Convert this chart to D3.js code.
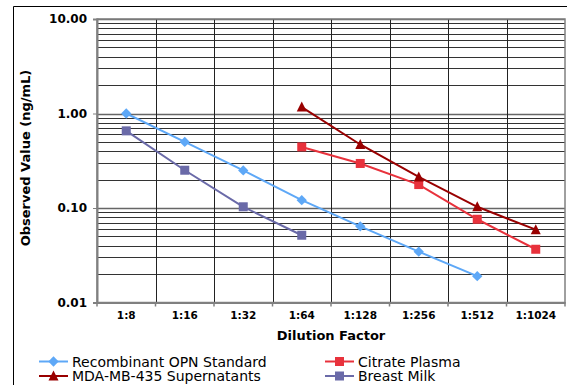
<!DOCTYPE html>
<html>
<head>
<meta charset="utf-8">
<script src="https://cdn.jsdelivr.net/npm/d3@7"></script>
<style>
  body { margin: 0; background: #fff; }
  svg { display: block; font-family: 'DejaVu Sans', Verdana, sans-serif; }
</style>
</head>
<body>
<div id="chart"></div>
<script>
// data
const dilutions = ['1:8', '1:16', '1:32', '1:64', '1:128', '1:256', '1:512', '1:1024'];
const yTicks = [0.01, 0.1, 1, 10];

const recombinant = [1.0, 0.5, 0.25, 0.121, 0.064, 0.0345, 0.019, null];
const citrate = [null, null, null, 0.443, 0.296, 0.177, 0.076, 0.0366];
const mda = [null, null, null, 1.17, 0.47, 0.213, 0.103, 0.059];
const breastMilk = [0.655, 0.251, 0.103, 0.0515, null, null, null, null];

const seriesList = [
    { name: 'Recombinant OPN Standard', values: recombinant, color: '#5ea8f7', marker: 'diamond', col: 0, row: 0 },
    { name: 'Citrate Plasma', values: citrate, color: '#e8323c', marker: 'square', col: 1, row: 0 },
    { name: 'MDA-MB-435 Supernatants', values: mda, color: '#990000', marker: 'triangle', col: 0, row: 1 },
    { name: 'Breast Milk', values: breastMilk, color: '#6a6aa8', marker: 'square', col: 1, row: 1 },
];

const width = 567;
const height = 385;
const plot = { left: 97, top: 19, right: 565, bottom: 302.5 };

const svg = d3.select('#chart')
    .append('svg')
    .attr('width', width)
    .attr('height', height);

// outer frame
svg.append('path')
    .attr('d', `M13.5,${height} V6.5 H${width}`)
    .attr('fill', 'none')
    .attr('stroke', '#000')
    .attr('stroke-width', 1);

const x = d3.scaleBand()
    .domain(dilutions)
    .range([plot.left, plot.right]);

const y = d3.scaleLog()
    .domain([0.01, 10])
    .range([plot.bottom, plot.top]);

// horizontal gridlines (every minor log step)
const gridVals = [];
[0.01, 0.1, 1].forEach((base) => {
    for (let i = 1; i <= 10; i++) gridVals.push(base * i);
});
const uniqueGrid = Array.from(new Set(gridVals.map((v) => +v.toPrecision(3))));

svg.append('g')
    .selectAll('line')
    .data(uniqueGrid.filter((v) => v > 0.01))
    .enter()
    .append('line')
    .attr('x1', plot.left)
    .attr('x2', plot.right)
    .attr('y1', (d) => Math.round(y(d)) + 0.5)
    .attr('y2', (d) => Math.round(y(d)) + 0.5)
    .attr('stroke', (d) => (yTicks.includes(d) ? '#666' : '#333'))
    .attr('stroke-width', (d) => (yTicks.includes(d) ? 1.5 : 1));

// vertical gridlines at category boundaries
const boundaries = dilutions.map((d) => x(d)).slice(1);
svg.append('g')
    .selectAll('line')
    .data(boundaries)
    .enter()
    .append('line')
    .attr('x1', (d) => Math.round(d) + 0.5)
    .attr('x2', (d) => Math.round(d) + 0.5)
    .attr('y1', plot.top)
    .attr('y2', plot.bottom)
    .attr('stroke', '#222')
    .attr('stroke-width', 1);

// plot frame
svg.append('rect')
    .attr('x', plot.left)
    .attr('y', plot.top)
    .attr('width', plot.right - plot.left)
    .attr('height', plot.bottom - plot.top)
    .attr('fill', 'none')
    .attr('stroke', '#808080')
    .attr('stroke-width', 1.5);

// y axis
const yAxis = d3.axisLeft(y)
    .tickValues(yTicks)
    .tickFormat(d3.format('.2f'))
    .tickSize(4)
    .tickPadding(6);

svg.append('g')
    .attr('transform', `translate(${plot.left},0)`)
    .call(yAxis)
    .call((g) => g.select('.domain').attr('stroke', '#808080').attr('stroke-width', 2))
    .call((g) => g.selectAll('.tick line').attr('stroke', '#808080'))
    .call((g) => g.selectAll('.tick text')
        .attr('font-size', 12)
        .attr('font-weight', 'bold')
        .attr('font-family', "'DejaVu Sans', Verdana, sans-serif")
        .attr('fill', '#000'));

// x axis
const xAxis = d3.axisBottom(x).tickSize(0).tickPadding(9);
const xg = svg.append('g')
    .attr('transform', `translate(0,${plot.bottom})`)
    .call(xAxis);
xg.select('.domain').attr('stroke', '#808080').attr('stroke-width', 2);
xg.selectAll('.tick text')
    .attr('font-size', 10.5)
    .attr('font-weight', 'bold')
    .attr('font-family', "'DejaVu Sans', Verdana, sans-serif")
    .attr('fill', '#000');

// x tick marks at boundaries
xg.append('g')
    .selectAll('line')
    .data([plot.left, ...boundaries, plot.right])
    .enter()
    .append('line')
    .attr('x1', (d) => d)
    .attr('x2', (d) => d)
    .attr('y1', 0)
    .attr('y2', 4)
    .attr('stroke', '#808080')
    .attr('stroke-width', 1.5);

// axis titles
svg.append('text')
    .attr('transform', 'translate(30,158) rotate(-90)')
    .attr('text-anchor', 'middle')
    .attr('font-size', 13)
    .attr('font-weight', 'bold')
    .text('Observed Value (ng/mL)');

svg.append('text')
    .attr('x', (plot.left + plot.right) / 2)
    .attr('y', 339.5)
    .attr('text-anchor', 'middle')
    .attr('font-size', 13)
    .attr('font-weight', 'bold')
    .text('Dilution Factor');

// markers
function drawMarker(g, type, color, size) {
    if (type === 'diamond') {
        g.append('path')
            .attr('d', d3.symbol().type(d3.symbolDiamond2).size(size * 7.5)())
            .attr('fill', color);
    } else if (type === 'square') {
        g.append('rect')
            .attr('x', -size / 2)
            .attr('y', -size / 2)
            .attr('width', size)
            .attr('height', size)
            .attr('fill', color);
    } else {
        g.append('path')
            .attr('d', `M0,${-size / 2 - 1}L${size / 2 + 0.5},${size / 2}L${-size / 2 - 0.5},${size / 2}Z`)
            .attr('fill', color);
    }
}

const line = d3.line()
    .defined((d) => d != null)
    .x((d, i) => x(dilutions[i]) + x.bandwidth() / 2)
    .y((d) => y(d));

seriesList.forEach((s) => {
    svg.append('path')
        .datum(s.values)
        .attr('d', line)
        .attr('fill', 'none')
        .attr('stroke', s.color)
        .attr('stroke-width', 2);

    s.values.forEach((v, i) => {
        if (v == null) return;
        const g = svg.append('g')
            .attr('transform', `translate(${x(dilutions[i]) + x.bandwidth() / 2},${y(v)})`);
        drawMarker(g, s.marker, s.color, 9);
    });
});

// legend
const legendCols = [39, 325];
const legendRows = [361.5, 376];
seriesList.forEach((s) => {
    const lx = legendCols[s.col];
    const ly = legendRows[s.row];
    const lg = svg.append('g').attr('transform', `translate(${lx},${ly})`);
    lg.append('line')
        .attr('x1', 0)
        .attr('x2', 29)
        .attr('stroke', s.color)
        .attr('stroke-width', 2);
    const mg = lg.append('g').attr('transform', 'translate(14.5,0)');
    drawMarker(mg, s.marker, s.color, 9);
    lg.append('text')
        .attr('x', 33)
        .attr('y', 0)
        .attr('dy', '0.36em')
        .attr('font-size', 14)
        .text(s.name);
});
</script>
</body>
</html>
